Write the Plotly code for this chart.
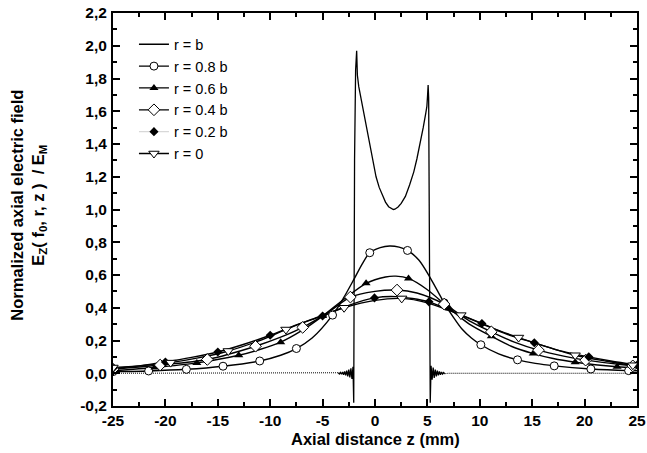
import plotly.graph_objects as go

# ---------------- data ----------------
# r = b : on-axis field in the gap, ringing at the gap edges, ~0 outside
rb_z = [-25, -20, -15, -10, -5, -3.6,
        -3.5, -3.4, -3.3, -3.2, -3.1, -3.0, -2.9, -2.8, -2.7, -2.6, -2.5, -2.4, -2.3, -2.2, -2.1,
        -2.03, -1.95, -1.85, -1.75, -1.68, -1.55, -1.4, -1.2, -0.9, -0.55, -0.2, 0.1, 0.4, 0.7,
        1.0, 1.3, 1.6, 1.75, 1.9, 2.2, 2.5, 2.9, 3.3, 3.7, 4.0, 4.3, 4.6, 4.85, 4.95, 5.02, 5.07,
        5.12, 5.18, 5.27,
        5.35, 5.45, 5.55, 5.65, 5.75, 5.85, 5.95, 6.05, 6.15, 6.25, 6.35, 6.45, 6.55, 6.65,
        7, 10, 15, 20, 25]
rb_v = [0, 0, 0, 0, 0, 0,
        0.003, -0.004, 0.005, -0.006, 0.007, -0.009, 0.011, -0.013, 0.016, -0.019, 0.022, -0.026, 0.03, -0.035, 0.04,
        -0.18, 1.3, 1.85, 1.97, 1.82, 1.75, 1.70, 1.62, 1.52, 1.40, 1.29, 1.20, 1.135, 1.085,
        1.045, 1.017, 1.003, 1.0, 1.002, 1.015, 1.037, 1.08, 1.15, 1.23, 1.31, 1.40, 1.50, 1.59, 1.63, 1.70, 1.76,
        1.68, 1.1, -0.18,
        0.045, -0.04, 0.034, -0.028, 0.023, -0.019, 0.016, -0.013, 0.011, -0.009, 0.007, -0.005, 0.004, -0.003,
        0, 0, 0, 0, 0]

# r = 0.8 b
r08_z = [-25, -21.6, -18, -14.5, -11, -9, -7.5, -6, -4.05, -3, -2, -1.2, -0.5, 0.5, 1.4, 2.3, 3.1,
         4.2, 5.3, 6.6, 7.5, 8.3, 9.2, 10.1, 11.8, 13.6, 15.3, 17.1, 20.6, 24.2, 25]
r08_v = [0.01, 0.014, 0.024, 0.043, 0.075, 0.11, 0.151, 0.215, 0.355, 0.46, 0.575, 0.67, 0.736, 0.767,
         0.777, 0.77, 0.75, 0.69, 0.58, 0.43, 0.34, 0.27, 0.215, 0.174, 0.118, 0.082, 0.06, 0.045,
         0.026, 0.016, 0.015]
r08_mz = [-25, -21.6, -18, -14.5, -11, -7.5, -4.05, -0.5, 3.1, 6.6, 10.1, 13.6, 17.1, 20.6, 24.2]
r08_mv = [0.01, 0.014, 0.024, 0.043, 0.075, 0.151, 0.355, 0.736, 0.75, 0.43, 0.174, 0.082, 0.045, 0.026, 0.016]

# r = 0.6 b
r06_z = [-25, -21, -17, -13, -11, -9, -7, -5, -3, -0.85, 1, 2, 3.2, 5, 7.1, 9, 11.1, 13, 15.1,
         17, 19.1, 21, 23.1, 25]
r06_v = [0.015, 0.035, 0.063, 0.11, 0.145, 0.19, 0.26, 0.349, 0.45, 0.549, 0.588, 0.593, 0.579,
         0.51, 0.396, 0.30, 0.226, 0.165, 0.12, 0.09, 0.067, 0.052, 0.04, 0.033]
r06_mz = [-25, -21, -17, -13, -9, -5, -0.85, 3.2, 7.1, 11.1, 15.1, 19.1, 23.1]
r06_mv = [0.015, 0.035, 0.063, 0.11, 0.19, 0.349, 0.549, 0.579, 0.396, 0.226, 0.12, 0.067, 0.04]

# r = 0.4 b
r04_z = [-25, -20.5, -16, -11.4, -9, -6.9, -4.5, -2.35, 0, 2.1, 4, 6.6, 9, 11.1, 13.3, 15.6,
         18, 20.1, 22.5, 24.6, 25]
r04_v = [0.025, 0.05, 0.084, 0.165, 0.22, 0.28, 0.37, 0.465, 0.50, 0.508, 0.49, 0.422, 0.32,
         0.253, 0.19, 0.141, 0.105, 0.08, 0.06, 0.045, 0.043]
r04_mz = [-25, -20.5, -16, -11.4, -6.9, -2.35, 2.1, 6.6, 11.1, 15.6, 20.1, 24.6]
r04_mv = [0.025, 0.05, 0.084, 0.165, 0.28, 0.465, 0.508, 0.422, 0.253, 0.141, 0.08, 0.045]

# r = 0.2 b
r02_z = [-25, -22.5, -20, -17.5, -15, -12.5, -10, -7.5, -5, -2.5, -0.05, 2, 5.15, 7.5, 10.2,
         12.5, 15.2, 17.5, 20.4, 22.5, 25]
r02_v = [0.03, 0.045, 0.069, 0.097, 0.13, 0.177, 0.232, 0.295, 0.35, 0.415, 0.46, 0.468, 0.436,
         0.375, 0.304, 0.24, 0.186, 0.14, 0.10, 0.075, 0.05]
r02_mz = [-25, -20, -15, -10, -5, -0.05, 5.15, 10.2, 15.2, 20.4, 25]
r02_mv = [0.03, 0.069, 0.13, 0.232, 0.35, 0.46, 0.436, 0.304, 0.186, 0.10, 0.05]

# r = 0
r0_z = [-25, -22, -19.5, -17, -14, -11, -8.5, -6, -2.95, 0, 2.55, 5, 8.2, 11, 13.7, 16.5, 19.1,
        22, 24.6, 25]
r0_v = [0.035, 0.048, 0.065, 0.092, 0.136, 0.2, 0.267, 0.33, 0.40, 0.445, 0.457, 0.43, 0.355,
        0.28, 0.218, 0.16, 0.11, 0.075, 0.049, 0.047]
r0_mz = [-25, -19.5, -14, -8.5, -2.95, 2.55, 8.2, 13.7, 19.1, 24.6]
r0_mv = [0.035, 0.065, 0.136, 0.267, 0.40, 0.457, 0.355, 0.218, 0.11, 0.049]

x_ticks = [-25, -20, -15, -10, -5, 0, 5, 10, 15, 20, 25]
x_labels = ["-25", "-20", "-15", "-10", "-5", "0", "5", "10", "15", "20", "25"]
y_ticks = [-0.2, 0.0, 0.2, 0.4, 0.6, 0.8, 1.0, 1.2, 1.4, 1.6, 1.8, 2.0, 2.2]
y_labels = ["-0,2", "0,0", "0,2", "0,4", "0,6", "0,8", "1,0", "1,2", "1,4", "1,6", "1,8", "2,0", "2,2"]

names = ["r = b", "r = 0.8 b", "r = 0.6 b", "r = 0.4 b", "r = 0.2 b", "r = 0"]
x_title = "Axial distance z (mm)"
y_title = "Normalized axial electric field<br>E<sub>Z</sub>( f<sub>0</sub>, r, z )  / E<sub>M</sub>"

# ---------------- figure ----------------
FONT = "Liberation Sans, Arial, sans-serif"
fig = go.Figure()

# r = b : dotted tails, solid in/near gap
tail_x, tail_y, core_x, core_y = [], [], [], []
for z, v in zip(rb_z, rb_v):
    if z <= -3.5:
        tail_x.append(z); tail_y.append(v)
for z, v in zip(rb_z, rb_v):
    if -3.5 <= z <= 6.65:
        core_x.append(z); core_y.append(v)
tail_x.append(None); tail_y.append(None)
for z, v in zip(rb_z, rb_v):
    if z >= 6.65:
        tail_x.append(z); tail_y.append(v)

fig.add_trace(go.Scatter(x=tail_x, y=tail_y, mode="lines", showlegend=False,
                         line=dict(color="black", width=1, dash="1px,1px")))
fig.add_trace(go.Scatter(x=core_x, y=core_y, mode="lines", showlegend=False,
                         line=dict(color="black", width=1.3)))

series = [
    (r08_z, r08_v, r08_mz, r08_mv, dict(symbol="circle", size=8, color="white",
                                         line=dict(color="black", width=1))),
    (r06_z, r06_v, r06_mz, r06_mv, dict(symbol="triangle-up", size=8, color="black",
                                         line=dict(color="black", width=0))),
    (r04_z, r04_v, r04_mz, r04_mv, dict(symbol="diamond", size=9, color="white",
                                         line=dict(color="black", width=1))),
    (r02_z, r02_v, r02_mz, r02_mv, dict(symbol="diamond", size=7, color="black",
                                         line=dict(color="black", width=0))),
    (r0_z, r0_v, r0_mz, r0_mv, dict(symbol="triangle-down", size=9, color="white",
                                     line=dict(color="black", width=1))),
]
for (lz, lv, mz, mv, mk) in series:
    fig.add_trace(go.Scatter(x=lz, y=lv, mode="lines", showlegend=False,
                             line=dict(color="black", width=1.4, shape="spline", smoothing=0.8)))
for (lz, lv, mz, mv, mk) in series:
    fig.add_trace(go.Scatter(x=mz, y=mv, mode="markers", showlegend=False, marker=mk))

# legend-only entries
fig.add_trace(go.Scatter(x=[None], y=[None], mode="lines", name=names[0],
                         line=dict(color="black", width=1.3)))
legend_line_colors = ["black", "black", "black", "#d8d8d8", "black"]
for i, (lz, lv, mz, mv, mk) in enumerate(series):
    fig.add_trace(go.Scatter(x=[None], y=[None], mode="lines+markers", name=names[i + 1],
                             line=dict(color=legend_line_colors[i], width=1.3), marker=mk))

axis_common = dict(showline=True, linecolor="black", linewidth=2, mirror="allticks",
                   ticks="inside", ticklen=7, tickwidth=2, tickcolor="black",
                   showgrid=False, zeroline=False, automargin=False,
                   tickfont=dict(family=FONT, size=15.5, color="black", weight="bold"))

fig.update_xaxes(range=[-25, 25], tickvals=x_ticks, ticktext=x_labels, ticklabelstandoff=-1,
                 minor=dict(dtick=2.5, tick0=0, ticks="inside", ticklen=4, tickwidth=1.5,
                            tickcolor="black"),
                 **axis_common)
fig.update_yaxes(range=[-0.2, 2.2], tickvals=y_ticks, ticktext=y_labels, ticklabelstandoff=1,
                 minor=dict(dtick=0.1, tick0=0, ticks="inside", ticklen=4, tickwidth=1.5,
                            tickcolor="black"),
                 **axis_common)

title_font = dict(family=FONT, size=16.5, color="black", weight="bold")
fig.add_annotation(text=x_title, xref="paper", yref="paper", x=0.5, y=-0.084,
                   xanchor="center", yanchor="middle", showarrow=False, font=title_font)
fig.add_annotation(text=y_title, xref="paper", yref="paper", x=-0.162, y=0.51,
                   xanchor="center", yanchor="middle", showarrow=False, textangle=-90,
                   font=title_font)

fig.update_layout(
    width=647, height=453,
    margin=dict(l=113, r=10, t=13, b=47),
    paper_bgcolor="white", plot_bgcolor="white",
    font=dict(family=FONT, color="black"),
    legend=dict(x=0.040, y=0.961, xanchor="left", yanchor="top", bgcolor="rgba(0,0,0,0)",
                font=dict(family=FONT, size=14.5, color="black"), itemwidth=30,
                tracegroupgap=0),
)

fig.write_html("out.html", config={"displayModeBar": False},
               post_script="document.body.style.margin='0px';document.body.style.overflow='hidden';")
